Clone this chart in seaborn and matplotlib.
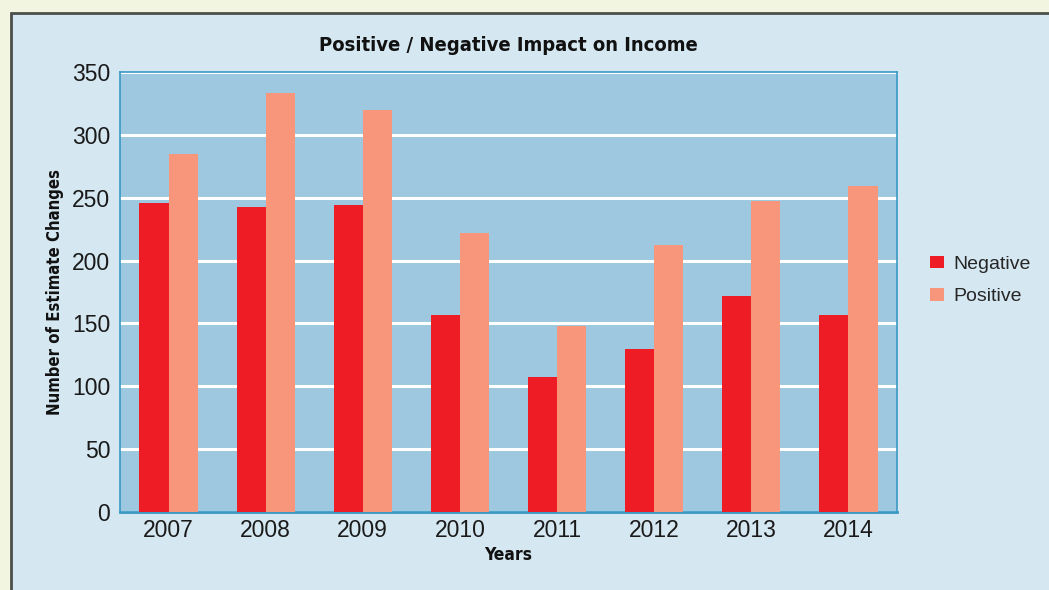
from matplotlib import pyplot as plt
from matplotlib.patches import Rectangle
import pandas as pd
import seaborn as sns

# Data
years = ['2007', '2008', '2009', '2010', '2011', '2012', '2013', '2014']
negative = [246, 243, 244, 157, 107, 130, 172, 157]
positive = [285, 333, 320, 222, 148, 212, 247, 259]
series = ['Negative', 'Positive']
colors = ['#EE1D25', '#F7967A']

df = pd.DataFrame({
    'Year': years * 2,
    'Count': negative + positive,
    'Type': ['Negative'] * len(years) + ['Positive'] * len(years),
})

sns.set_style('white')
plt.rcParams['font.family'] = ['Liberation Sans', 'DejaVu Sans']
bold = dict(family='DejaVu Sans', stretch='condensed', fontweight='bold', color='#111111')

fig = plt.figure(figsize=(10.49, 5.9), dpi=100)
fig.patch.set_facecolor('#F2F6E0')

# light blue panel with dark frame
fig.add_artist(Rectangle((11 / 1049, -0.05), 1.1, 1 - 13 / 590 + 0.05,
                         transform=fig.transFigure, facecolor='#D5E7F1',
                         edgecolor='#4A4F4A', linewidth=2, zorder=0))

ax = fig.add_axes([120 / 1049, 78 / 590, 777 / 1049, 440 / 590])
ax.set_facecolor('#9DC8DF')

sns.barplot(data=df, x='Year', y='Count', hue='Type', hue_order=series,
            palette=colors, width=0.6, saturation=1, linewidth=0, ax=ax, zorder=3)

ax.set_ylim(0, 350)
ax.set_yticks(range(0, 351, 50))
ax.grid(axis='y', color='white', linewidth=2.2, zorder=1)
ax.set_axisbelow(True)
for s in ax.spines.values():
    s.set_color('#3A99C4')
    s.set_linewidth(1.2)
ax.spines['bottom'].set_linewidth(2)
ax.tick_params(axis='both', length=0, labelsize=16.5, colors='#1a1a1a')
ax.tick_params(axis='y', pad=7)
ax.tick_params(axis='x', pad=5)

ax.set_title('Positive / Negative Impact on Income', fontsize=14.5, pad=15, **bold)
ax.set_xlabel('Years', fontsize=12.5, labelpad=3, **bold)
ax.set_ylabel('Number of Estimate Changes', fontsize=12, labelpad=6, **bold)

ax.legend(title=None, frameon=False, loc='center left',
          bbox_to_anchor=(1.042, 0.526), borderaxespad=0, borderpad=0,
          fontsize=14, handlelength=0.75, handleheight=0.6,
          handletextpad=0.45, labelspacing=0.8)

plt.savefig('out.png', dpi=100, facecolor=fig.get_facecolor())
